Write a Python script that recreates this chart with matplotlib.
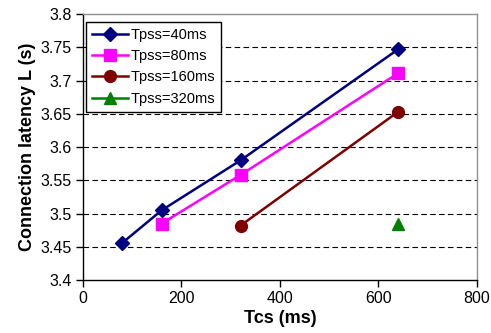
import matplotlib
matplotlib.use('Agg')
import matplotlib.pyplot as plt

plt.rcParams['font.family'] = ['Liberation Sans', 'DejaVu Sans']

# data
x40 = [80, 160, 320, 640]
y40 = [3.456, 3.505, 3.580, 3.747]
x80 = [160, 320, 640]
y80 = [3.485, 3.558, 3.711]
x160 = [320, 640]
y160 = [3.482, 3.653]
x320 = [640]
y320 = [3.485]

fig = plt.figure(figsize=(4.91, 3.33), dpi=100)
ax = fig.add_axes([0.169, 0.159, 0.8025, 0.799])

ax.plot(x40, y40, 'D-', color='#000080', markersize=7, linewidth=1.8, label='Tpss=40ms')
ax.plot(x80, y80, 's-', color='#FF00FF', markersize=8.5, linewidth=1.8, label='Tpss=80ms')
ax.plot(x160, y160, 'o-', color='#800000', markersize=8.5, linewidth=1.8, label='Tpss=160ms')
ax.plot(x320, y320, '^-', color='#008000', markersize=8.5, linewidth=1.8, label='Tpss=320ms')

ax.set_xlim(0, 800)
ax.set_ylim(3.4, 3.8)
ax.set_xticks([0, 200, 400, 600, 800])
ax.set_yticks([3.4, 3.45, 3.5, 3.55, 3.6, 3.65, 3.7, 3.75, 3.8])
ax.set_yticklabels(['3.4', '3.45', '3.5', '3.55', '3.6', '3.65', '3.7', '3.75', '3.8'])
ax.tick_params(direction='out', length=5, width=1, labelsize=11.5, colors='black', pad=3)

for yv in [3.45, 3.5, 3.55, 3.6, 3.65, 3.7, 3.75]:
    ax.axhline(yv, color='black', linestyle=(0, (5, 3)), linewidth=0.8, zorder=0)

ax.spines['left'].set_color('black')
ax.spines['bottom'].set_color('black')
ax.spines['top'].set_color('#909090')
ax.spines['right'].set_color('#909090')
for s in ax.spines.values():
    s.set_linewidth(1.0)

ax.set_xlabel('Tcs (ms)', fontsize=13, fontweight='bold', labelpad=3)
ax.set_ylabel('Connection latency L (s)', fontsize=13, fontweight='bold', labelpad=3)

leg = ax.legend(loc='upper left', bbox_to_anchor=(0.008, 0.97), fontsize=10.5,
                frameon=True, fancybox=False, edgecolor='black', framealpha=1,
                borderpad=0.4, labelspacing=0.5, handlelength=2.5, handletextpad=0.15,
                borderaxespad=0)
leg.get_frame().set_linewidth(1.0)

fig.savefig('out.png', dpi=100)
